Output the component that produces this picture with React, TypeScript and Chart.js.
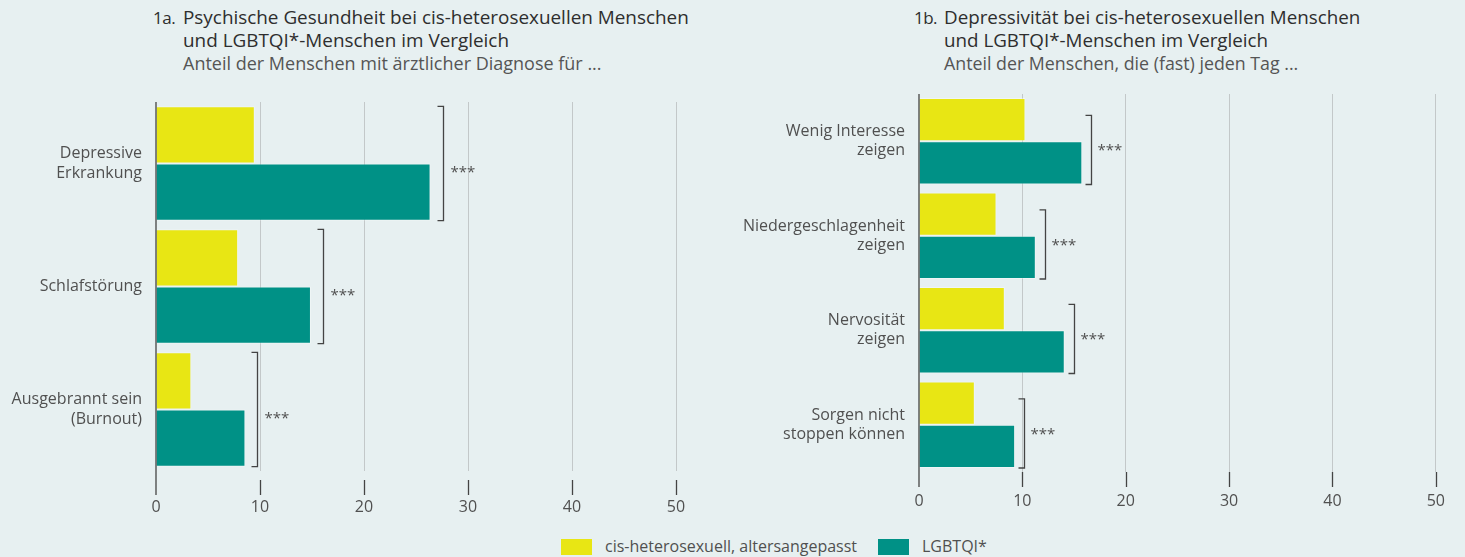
import React, { useEffect, useRef } from "react";
import { Chart, registerables } from "chart.js";

Chart.register(...registerables);

// ---------- data ----------
const categoriesA: string[][] = [["Depressive", "Erkrankung"], ["Schlafstörung"], ["Ausgebrannt sein", "(Burnout)"]];
const cisA = [9.5, 7.9, 3.4];
const lgbtA = [26.4, 14.9, 8.6];
const sigA = ["***", "***", "***"];

const categoriesB: string[][] = [
  ["Wenig Interesse", "zeigen"],
  ["Niedergeschlagenheit", "zeigen"],
  ["Nervosität", "zeigen"],
  ["Sorgen nicht", "stoppen können"],
];
const cisB = [10.3, 7.5, 8.3, 5.4];
const lgbtB = [15.8, 11.3, 14.1, 9.3];
const sigB = ["***", "***", "***", "***"];

const xTicks = [0, 10, 20, 30, 40, 50];
const seriesNames = ["cis-heterosexuell, altersangepasst", "LGBTQI*"];

const titleA = ["Psychische Gesundheit bei cis-heterosexuellen Menschen", "und LGBTQI*-Menschen im Vergleich"];
const subA = "Anteil der Menschen mit ärztlicher Diagnose für ...";
const titleB = ["Depressivität bei cis-heterosexuellen Menschen", "und LGBTQI*-Menschen im Vergleich"];
const subB = "Anteil der Menschen, die (fast) jeden Tag ...";

// ---------- styles ----------
const BG = "#e7f0f1";
const YELLOW = "#e8e614";
const TEAL = "#009186";
const FONT = "'Open Sans', 'Noto Sans', sans-serif";
const TEXT = "#505050";
const DARK = "#444444";

type Cfg = {
  left: number;
  width: number;
  height: number;
  axisLeft: number;
  plotTop: number;
  plotBottom: number;
  plotRightPad: number;
  tickGap: number;
  tickLen: number;
  labelPad: number;
  catPct: number;
  bracketOffset: number;
  bracketStartFrac: number;
  starOffset: number;
  starDy: number;
};

function BarPanel({ labels, cis, lgbt, sig, cfg }: { labels: string[][]; cis: number[]; lgbt: number[]; sig: string[]; cfg: Cfg }) {
  const ref = useRef<HTMLCanvasElement | null>(null);
  useEffect(() => {
    if (!ref.current) return;
    const annot = {
      id: "annot",
      afterDraw(chart: any) {
        const ctx = chart.ctx;
        const area = chart.chartArea;
        const xs = chart.scales.x;
        ctx.save();
        ctx.strokeStyle = DARK;
        ctx.lineWidth = 1.3;
        ctx.beginPath();
        ctx.moveTo(area.left, area.top);
        ctx.lineTo(area.left, area.bottom + cfg.tickGap + cfg.tickLen);
        ctx.stroke();
        xTicks.forEach((t) => {
          if (t === 0) return;
          const x = Math.round(xs.getPixelForValue(t)) + 0.5;
          ctx.beginPath();
          ctx.moveTo(x, area.bottom + cfg.tickGap);
          ctx.lineTo(x, area.bottom + cfg.tickGap + cfg.tickLen);
          ctx.stroke();
        });
        const m0 = chart.getDatasetMeta(0);
        const m1 = chart.getDatasetMeta(1);
        ctx.font = "15px " + FONT;
        ctx.fillStyle = TEXT;
        ctx.textBaseline = "middle";
        ctx.textAlign = "left";
        lgbt.forEach((v, i) => {
          const b0 = m0.data[i];
          const b1 = m1.data[i];
          const top = b0.y - b0.height / 2 + b0.height * cfg.bracketStartFrac;
          const bot = b1.y + b1.height / 2;
          const bx = Math.round(xs.getPixelForValue(v) + cfg.bracketOffset) + 0.5;
          ctx.beginPath();
          ctx.moveTo(bx - 6, top);
          ctx.lineTo(bx, top);
          ctx.lineTo(bx, bot);
          ctx.lineTo(bx - 6, bot);
          ctx.stroke();
          ctx.fillText(sig[i], bx + cfg.starOffset, (top + bot) / 2 + cfg.starDy);
        });
        ctx.restore();
      },
    };
    const chart = new Chart(ref.current, {
      type: "bar",
      data: {
        labels: labels,
        datasets: [
          { label: seriesNames[0], data: cis, backgroundColor: YELLOW, borderColor: "rgba(255,255,255,0.35)", borderWidth: 1, barPercentage: 1, categoryPercentage: cfg.catPct },
          { label: seriesNames[1], data: lgbt, backgroundColor: TEAL, borderColor: "rgba(255,255,255,0.35)", borderWidth: 1, barPercentage: 1, categoryPercentage: cfg.catPct },
        ],
      },
      options: {
        indexAxis: "y",
        responsive: false,
        animation: false,
        events: [],
        layout: { padding: { top: cfg.plotTop, right: cfg.plotRightPad, bottom: 0, left: 0 } },
        plugins: { legend: { display: false }, tooltip: { enabled: false }, title: { display: false } },
        scales: {
          x: {
            min: 0,
            max: 50,
            afterBuildTicks: (s: any) => {
              s.ticks = xTicks.map((v) => ({ value: v }));
            },
            afterFit: (s: any) => {
              s.height = cfg.height - cfg.plotBottom;
            },
            border: { display: false },
            grid: {
              drawTicks: false,
              color: (c: any) => (c.tick && c.tick.value === 0 ? "rgba(0,0,0,0)" : "#c3c8c9"),
              lineWidth: 1,
            },
            ticks: { color: TEXT, font: { family: FONT, size: 16 }, padding: cfg.labelPad, maxRotation: 0, autoSkip: false },
          },
          y: {
            afterFit: (s: any) => {
              s.width = cfg.axisLeft;
            },
            border: { display: false },
            grid: { display: false, drawTicks: false },
            ticks: { color: TEXT, font: { family: FONT, size: 16, lineHeight: 1.2 }, padding: 14 },
          },
        },
      },
      plugins: [annot],
    } as any);
    return () => chart.destroy();
  }, []);
  return (
    <canvas
      ref={ref}
      width={cfg.width}
      height={cfg.height}
      style={{ position: "absolute", left: cfg.left, top: 0, width: cfg.width, height: cfg.height }}
    />
  );
}

function Title({ num, lines, sub, left, textLeft, size, subSize }: { num: string; lines: string[]; sub: string; left: number; textLeft: number; size: number; subSize: number }) {
  const base: React.CSSProperties = { position: "absolute", fontFamily: FONT, lineHeight: "23px", whiteSpace: "nowrap" };
  return (
    <>
      <div style={{ ...base, fontSize: 17, letterSpacing: -0.5, left, top: 6, color: "#2e2e2e" }}>{num}</div>
      <div style={{ ...base, fontSize: size, left: textLeft, top: 6, color: "#2e2e2e" }}>
        {lines.map((l, i) => (
          <div key={i}>{l}</div>
        ))}
        <div style={{ color: "#555", fontSize: subSize }}>{sub}</div>
      </div>
    </>
  );
}

export default function App() {
  const cfgA: Cfg = {
    left: 0,
    width: 720,
    height: 530,
    axisLeft: 156,
    plotTop: 102,
    plotBottom: 471,
    plotRightPad: 720 - 676,
    tickGap: 9,
    tickLen: 15,
    labelPad: 27,
    catPct: 0.93,
    bracketOffset: 12,
    bracketStartFrac: 0,
    starOffset: 7,
    starDy: 9,
  };
  const cfgB: Cfg = {
    left: 730,
    width: 735,
    height: 530,
    axisLeft: 189,
    plotTop: 94,
    plotBottom: 472,
    plotRightPad: 735 - (1439 - 730),
    tickGap: 0,
    tickLen: 15,
    labelPad: 20,
    catPct: 0.915,
    bracketOffset: 9,
    bracketStartFrac: 0.4,
    starOffset: 6,
    starDy: 1,
  };
  return (
    <div style={{ position: "fixed", left: 0, top: 0, width: 1465, height: 557, background: BG, overflow: "hidden" }}>
      <Title num="1a." lines={titleA} sub={subA} left={153} textLeft={183} size={18.9} subSize={18} />
      <Title num="1b." lines={titleB} sub={subB} left={914} textLeft={944} size={18.8} subSize={17.8} />
      <BarPanel labels={categoriesA} cis={cisA} lgbt={lgbtA} sig={sigA} cfg={cfgA} />
      <BarPanel labels={categoriesB} cis={cisB} lgbt={lgbtB} sig={sigB} cfg={cfgB} />
      <div style={{ position: "absolute", left: 561, top: 539, width: 31, height: 16, background: YELLOW }} />
      <div style={{ position: "absolute", left: 605, top: 535, fontFamily: FONT, fontSize: 16, lineHeight: "22px", color: TEXT, whiteSpace: "nowrap" }}>{seriesNames[0]}</div>
      <div style={{ position: "absolute", left: 878, top: 539, width: 31, height: 16, background: TEAL }} />
      <div style={{ position: "absolute", left: 922, top: 535, fontFamily: FONT, fontSize: 16, lineHeight: "22px", color: TEXT, whiteSpace: "nowrap" }}>{seriesNames[1]}</div>
    </div>
  );
}
